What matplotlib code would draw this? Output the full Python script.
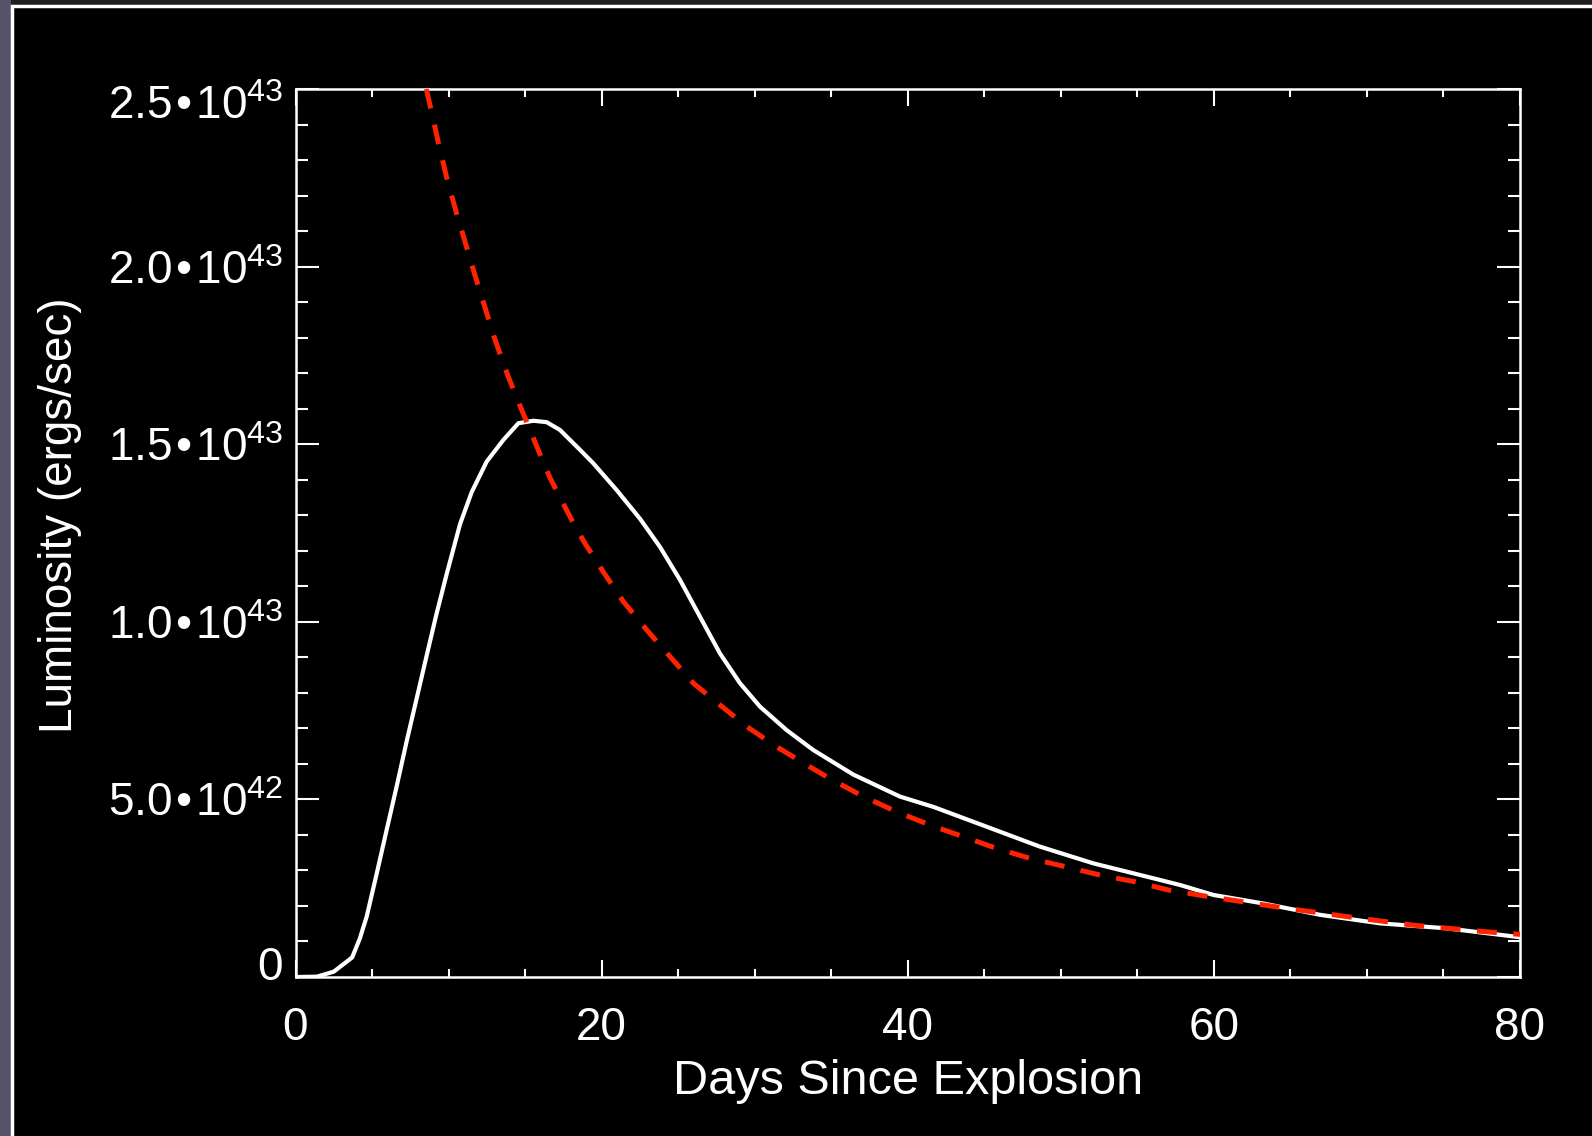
import numpy as np
import matplotlib
matplotlib.use("Agg")
import matplotlib.pyplot as plt
from matplotlib.patches import Rectangle
from matplotlib.ticker import FixedLocator, MultipleLocator
import matplotlib.transforms as mtransforms

plt.rcParams['font.family'] = ['Liberation Sans', 'DejaVu Sans']
plt.rcParams['mathtext.fontset'] = 'custom'
plt.rcParams['mathtext.rm'] = 'Liberation Sans'
plt.rcParams['mathtext.it'] = 'Liberation Sans'

# light curve (white), days since explosion vs luminosity in 1e42 erg/s
lc_days = [0.0, 1.4, 2.5, 3.7, 4.2, 4.65, 5.3, 5.96, 6.6, 7.27, 7.92, 8.57, 9.2,
           9.88, 10.75, 11.51, 12.49, 13.58, 14.56, 15.54, 16.41, 17.28, 18.59,
           19.46, 20.98, 22.51, 23.81, 25.12, 26.43, 27.73, 29.04, 30.35, 32.09,
           33.83, 36.44, 39.49, 41.67, 45.16, 48.64, 52.12, 56.04, 57.79, 59.97,
           63.23, 66.94, 70.86, 75.21, 80.0]
lc_lum = [0.0, 0.01, 0.15, 0.55, 1.08, 1.70, 2.90, 4.15, 5.35, 6.65, 7.85, 9.05, 10.2,
          11.35, 12.75, 13.65, 14.51, 15.12, 15.59, 15.66, 15.62, 15.40, 14.84,
          14.46, 13.71, 12.90, 12.11, 11.18, 10.14, 9.11, 8.27, 7.61, 6.95,
          6.39, 5.70, 5.08, 4.79, 4.23, 3.67, 3.20, 2.78, 2.59, 2.31,
          2.07, 1.75, 1.51, 1.37, 1.12]

# radioactive decay input (red dashed)
decay_days = [8.55, 9.33, 9.88, 10.49, 11.73, 13.03, 13.9, 14.84, 15.78, 16.63, 17.28,
              18.13, 18.91, 20.1, 21.42, 22.95, 24.47, 26.0, 27.73, 29.48, 31.44,
              33.4, 34.7, 37.1, 39.28, 41.45, 43.63, 45.81, 47.99, 50.27, 52.56,
              54.85, 57.02, 59.42, 64.3, 68.7, 73.0, 77.6, 80.0]
decay_lum = [25.0, 23.5, 22.5, 21.55, 19.75, 17.95, 16.9, 15.9, 14.92, 14.05, 13.5,
             12.8, 12.21, 11.41, 10.57, 9.77, 9.02, 8.27, 7.66, 7.05, 6.48,
             5.97, 5.64, 5.08, 4.65, 4.28, 3.95, 3.62, 3.34, 3.11, 2.87,
             2.68, 2.45, 2.28, 1.96, 1.70, 1.46, 1.28, 1.20]

x_ticks = [0, 20, 40, 60, 80]
y_ticks = [0, 5e42, 1e43, 1.5e43, 2e43, 2.5e43]
y_labels = ['0', '5.0\u200a•\u200a10$^{42}$', '1.0\u200a•\u200a10$^{43}$',
            '1.5\u200a•\u200a10$^{43}$', '2.0\u200a•\u200a10$^{43}$',
            '2.5\u200a•\u200a10$^{43}$']

W, H = 1592, 1136
fig = plt.figure(figsize=(W / 100, H / 100), dpi=100)
fig.patch.set_facecolor('#1e1e22')

# slide backdrop: purple strip at left, black panel with white frame
fig.patches.append(Rectangle((0, 0), 11 / W, 1, transform=fig.transFigure,
                             facecolor='#57526a', edgecolor='none', zorder=-10))
fig.patches.append(Rectangle((12 / W, -0.05), 1.1, 1 - 6 / H + 0.05,
                             transform=fig.transFigure, facecolor='black',
                             edgecolor='white', linewidth=2.5, zorder=-9))

ax = fig.add_axes([295.5 / W, 159 / H, (1520 - 295.5) / W, (977 - 89) / H])
ax.set_facecolor('black')

ax.plot(lc_days, np.array(lc_lum) * 1e42, color='white', lw=3.0, zorder=3)
ax.plot(decay_days, np.array(decay_lum) * 1e42, color='#ff2200', lw=3.6,
        dashes=(4.0, 3.3), zorder=4)

ax.set_xlim(0, 80)
ax.set_ylim(0, 2.5e43)

ax.xaxis.set_major_locator(FixedLocator(x_ticks))
ax.xaxis.set_minor_locator(MultipleLocator(5))
ax.yaxis.set_major_locator(FixedLocator(y_ticks))
ax.yaxis.set_minor_locator(MultipleLocator(1e42))
ax.set_yticklabels(y_labels)

for s in ax.spines.values():
    s.set_color('white')
    s.set_linewidth(1.8)

ax.tick_params(which='both', direction='in', colors='white', top=True, right=True,
               width=1.5, labelsize=33)
ax.tick_params(axis='y', which='major', length=16.5, pad=9)
ax.tick_params(axis='y', which='minor', length=8.5)
ax.tick_params(axis='x', which='major', length=12, pad=21)
ax.tick_params(axis='x', which='minor', length=6)

labs = ax.get_yticklabels()
labs[0].set_transform(labs[0].get_transform() +
                      mtransforms.ScaledTranslation(0, 14 / 100, fig.dpi_scale_trans))
labs[-1].set_transform(labs[-1].get_transform() +
                       mtransforms.ScaledTranslation(0, -13 / 100, fig.dpi_scale_trans))

ax.set_xlabel('Days Since Explosion', color='white', fontsize=35, labelpad=6)
ax.set_ylabel('Luminosity (ergs/sec)', color='white', fontsize=33)
ax.yaxis.set_label_coords(-0.174, 0.52)

fig.savefig('out.png', dpi=100, facecolor=fig.get_facecolor())
